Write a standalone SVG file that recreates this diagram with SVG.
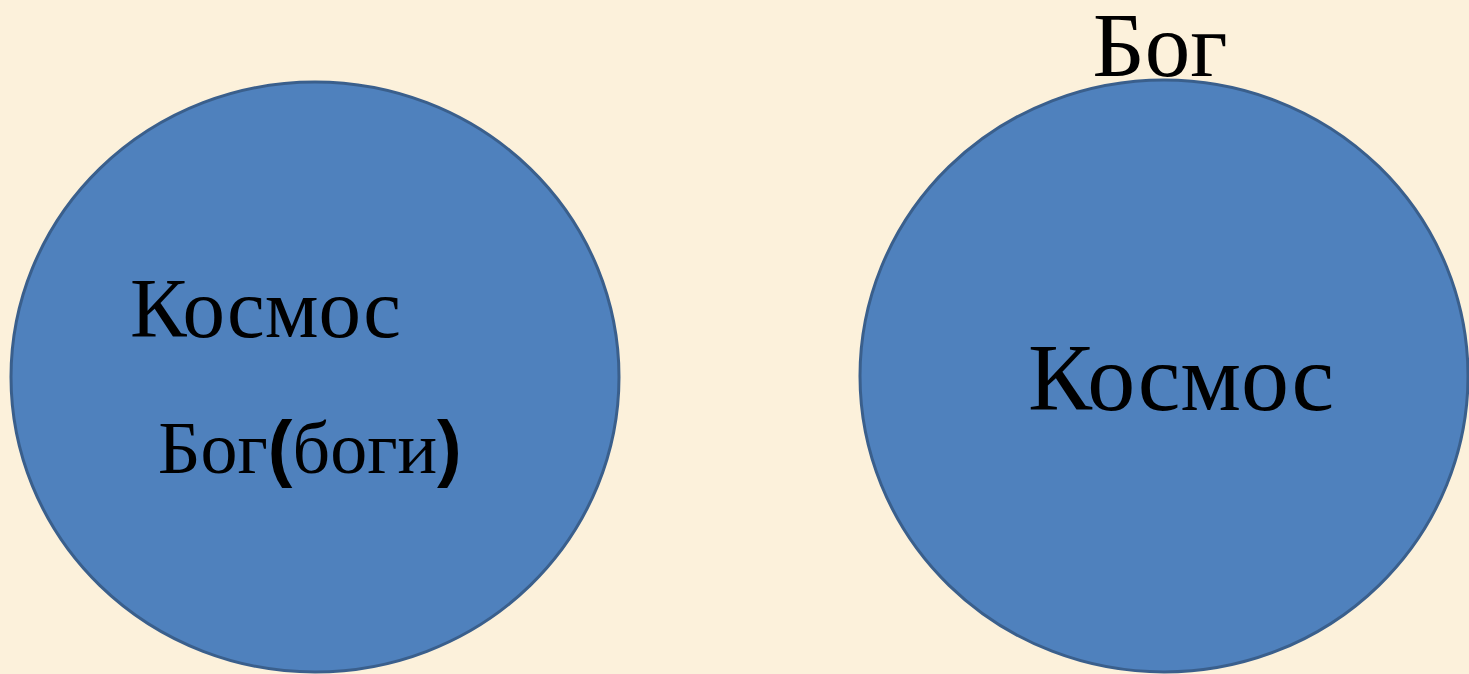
<svg xmlns="http://www.w3.org/2000/svg" width="1469" height="674" viewBox="0 0 1469 674">
<style>
.c{fill:#4F81BD;stroke:#3A5F8C;stroke-width:3}
.t{font-family:"Liberation Serif","Times New Roman",serif;fill:#000}
.p{font-family:"Liberation Sans",Arial,sans-serif;font-weight:bold}
</style>
<rect width="1469" height="674" fill="#FCF1DB"/>
<g id="left">
<ellipse class="c" cx="315" cy="377" rx="304" ry="295"/>
<text class="t" x="130" y="337" font-size="85">Космос</text>
<text class="t" x="158" y="473" font-size="74">Бог<tspan class="p">(</tspan>боги<tspan class="p">)</tspan></text>
</g>
<g id="right">
<ellipse class="c" cx="1164" cy="376" rx="304" ry="296"/>
<text class="t" x="1181" y="410" font-size="96" text-anchor="middle">Космос</text>
<text class="t" x="1160" y="76" font-size="91" text-anchor="middle">Бог</text>
</g>
<g id="connectors"/>
</svg>
